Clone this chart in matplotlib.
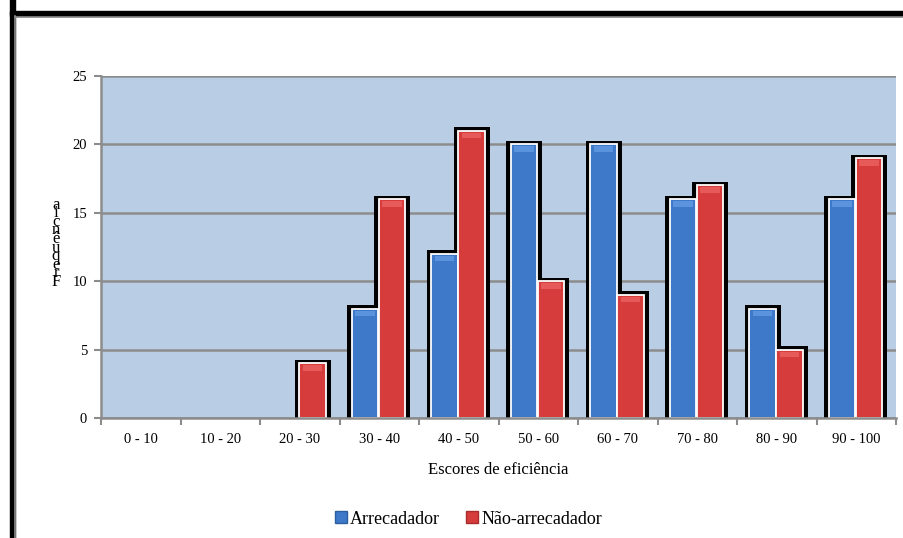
import numpy as np
import matplotlib.pyplot as plt
from matplotlib.lines import Line2D

faixas = ['0 - 10', '10 - 20', '20 - 30', '30 - 40', '40 - 50',
          '50 - 60', '60 - 70', '70 - 80', '80 - 90', '90 - 100']
arrecadador = [0, 0, 0, 8, 12, 20, 20, 16, 8, 16]
nao_arrecadador = [0, 0, 4, 16, 21, 10, 9, 17, 5, 19]

AZUL = '#3d78c9'
VERMELHO = '#d63c3c'
FUNDO = '#b9cde5'
CINZA = '#8c8c8c'

plt.rcParams['font.family'] = 'Liberation Serif'

fig = plt.figure(figsize=(9.04, 5.38), dpi=100)
ax = fig.add_axes([101/904, 1 - 418/538, 795/904, 342/538])
ax.set_facecolor(FUNDO)

x = np.arange(len(faixas))
w = 0.33
pos_a = x + 0.5 - 0.2 - w/2 + 0.02
pos_n = pos_a + w + 0.01


def desenha_barras(pos, vals, cor, claro):
    vals = np.array(vals, dtype=float)
    tem = vals > 0
    # sombra preta atras da barra
    ax.bar(pos[tem] - 0.055, vals[tem] + 0.25, width=w + 0.12, align='edge',
           color='black', zorder=2)
    ax.bar(pos[tem], vals[tem], width=w, align='edge', color=cor,
           edgecolor='white', linewidth=1.3, zorder=3)
    # brilho no topo
    ax.bar(pos[tem] + 0.04, np.full(tem.sum(), 0.4), bottom=vals[tem] - 0.55,
           width=w - 0.08, align='edge', color=claro, zorder=4)


desenha_barras(pos_a, arrecadador, AZUL, '#5b93dc')
desenha_barras(pos_n, nao_arrecadador, VERMELHO, '#e65a5a')

ax.set_xlim(0, len(faixas))
ax.set_ylim(0, 25)
ax.set_yticks(range(0, 26, 5))
ax.set_xticks(np.arange(0, len(faixas) + 1))
ax.set_xticklabels([])
ax.set_xticks(x + 0.5, minor=True)
ax.set_xticklabels(faixas, minor=True, fontsize=10.5)
ax.tick_params(axis='x', which='minor', length=0, pad=11)
ax.tick_params(axis='x', which='major', length=5, color=CINZA, width=1.5)
ax.tick_params(axis='y', length=5, color=CINZA, width=1.5, labelsize=10.5, pad=5)
ax.yaxis.grid(True, color=CINZA, linewidth=1.8, zorder=1)
ax.set_axisbelow(True)
for s in ['top', 'right']:
    ax.spines[s].set_visible(False)
for s in ['left', 'bottom']:
    ax.spines[s].set_color(CINZA)
    ax.spines[s].set_linewidth(1.8)
    ax.spines[s].set_zorder(5)

ax.set_xlabel('Escores de eficiência', fontsize=12, labelpad=11)

# rotulo do eixo y com letras empilhadas
titulo_y = 'Frequência'
for i, letra in enumerate(titulo_y):
    fig.text(56/904, 1 - (282 - i * 8.6)/538, letra, fontsize=12,
             ha='center', va='center')

handles = [Line2D([], [], marker='s', linestyle='none', markersize=8,
                  markerfacecolor=AZUL, markeredgecolor='#2d5f9e'),
           Line2D([], [], marker='s', linestyle='none', markersize=8,
                  markerfacecolor=VERMELHO, markeredgecolor='#a82c2c')]
fig.legend(handles, ['Arrecadador', 'Não-arrecadador'], loc='center',
           bbox_to_anchor=(467/904, 1 - 519/538), ncol=2, frameon=False,
           fontsize=13, handletextpad=0.0, columnspacing=1.3, handlelength=1.0)

# moldura do grafico
fig.add_artist(plt.Rectangle((10/904, -0.1), 5/904, 1.2, transform=fig.transFigure,
                             color='black'))
fig.add_artist(plt.Rectangle((10/904, 1 - 16/538), 1.0, 5/538,
                             transform=fig.transFigure, color='black'))
fig.add_artist(Line2D([15.5/904, 15.5/904], [0, 1 - 16/538], transform=fig.transFigure,
                      color=CINZA, linewidth=1.2))
fig.add_artist(Line2D([15/904, 1], [1 - 17/538, 1 - 17/538], transform=fig.transFigure,
                      color=CINZA, linewidth=1.2))

fig.savefig('out.png', dpi=100)
